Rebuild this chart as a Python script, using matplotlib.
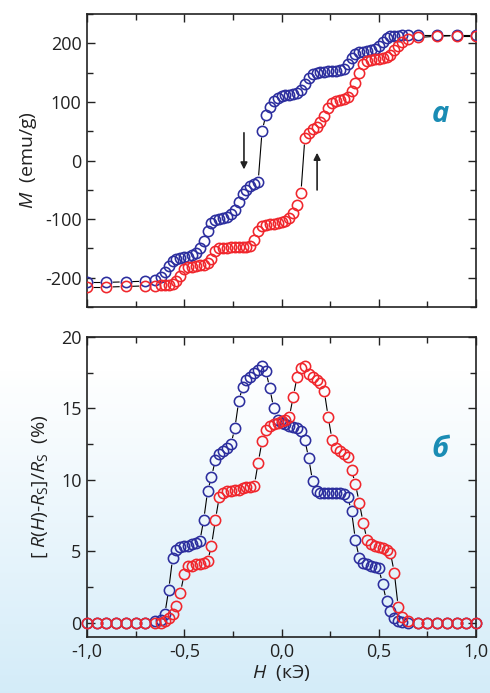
import numpy as np
import matplotlib
matplotlib.use("Agg")
import matplotlib.pyplot as plt
from matplotlib.collections import LineCollection
from matplotlib.ticker import MultipleLocator, FuncFormatter

plt.rcParams['font.family'] = ['Open Sans', 'DejaVu Sans']
plt.rcParams['axes.unicode_minus'] = False
plt.rcParams['mathtext.fontset'] = 'custom'
plt.rcParams['mathtext.rm'] = 'Open Sans'
plt.rcParams['mathtext.it'] = 'Open Sans:italic'

# ---- panel a: magnetization loop, M (emu/g) vs H (kOe) ----
h_top = [-1.0, -0.9, -0.8, -0.7, -0.65,
         -0.62, -0.60, -0.58, -0.56, -0.54, -0.52, -0.50, -0.48, -0.46, -0.44,
         -0.42, -0.40, -0.38, -0.36, -0.34, -0.32, -0.30, -0.28, -0.26, -0.24,
         -0.22, -0.20, -0.18, -0.16, -0.14, -0.12, -0.10, -0.08, -0.06, -0.04,
         -0.02, 0.00, 0.02, 0.04, 0.06, 0.08, 0.10, 0.12, 0.14, 0.16,
         0.18, 0.20, 0.22, 0.24, 0.26, 0.28, 0.30, 0.32, 0.34, 0.36,
         0.38, 0.40, 0.42, 0.44, 0.46, 0.48, 0.50, 0.52, 0.54, 0.56,
         0.58, 0.60, 0.62,
         0.65, 0.7, 0.8, 0.9, 1.0]

m_down = [-208, -208, -207, -206, -204,
          -198, -190, -180, -172, -168, -166, -165, -164, -162, -158,
          -150, -138, -120, -106, -101, -100, -98, -96, -92, -84,
          -70, -58, -50, -44, -40, -36, 50, 78, 92, 101,
          107, 110, 111, 112, 114, 116, 120, 130, 140, 147,
          150, 151, 151, 152, 152, 153, 154, 156, 164, 175,
          182, 185, 186, 187, 188, 190, 195, 203, 209, 212,
          213, 213, 214,
          214, 215, 215, 215, 215]

m_up = [-216, -216, -215, -214, -214,
        -213, -213, -212, -210, -205, -197, -186, -182, -181, -180,
        -179, -178, -175, -168, -155, -150, -149, -149, -148, -148,
        -148, -147, -147, -146, -136, -120, -112, -110, -109, -108,
        -107, -105, -103, -98, -90, -76, -55, 38, 47, 53,
        58, 66, 76, 89, 98, 102, 104, 105, 108, 118,
        132, 150, 164, 170, 172, 173, 174, 175, 177, 180,
        188, 195, 202,
        207, 210, 212, 213, 213]

# ---- panel b: magnetoresistance [R(H)-Rs]/Rs (%) vs H (kOe) ----
h_bot = [-1.0, -0.95, -0.9, -0.85, -0.8, -0.75, -0.7, -0.65,
         -0.62, -0.60, -0.58, -0.56, -0.54, -0.52, -0.50, -0.48, -0.46, -0.44,
         -0.42, -0.40, -0.38, -0.36, -0.34, -0.32, -0.30, -0.28, -0.26, -0.24,
         -0.22, -0.20, -0.18, -0.16, -0.14, -0.12, -0.10, -0.08, -0.06, -0.04,
         -0.02, 0.00, 0.02, 0.04, 0.06, 0.08, 0.10, 0.12, 0.14, 0.16,
         0.18, 0.20, 0.22, 0.24, 0.26, 0.28, 0.30, 0.32, 0.34, 0.36,
         0.38, 0.40, 0.42, 0.44, 0.46, 0.48, 0.50, 0.52, 0.54, 0.56,
         0.58, 0.60, 0.62,
         0.65, 0.7, 0.75, 0.8, 0.85, 0.9, 0.95, 1.0]

r_down = [0, 0, 0, 0, 0, 0, 0, 0.1,
          0.2, 0.6, 2.3, 4.5, 5.1, 5.3, 5.4, 5.4, 5.5, 5.6,
          5.7, 7.2, 9.2, 10.2, 11.4, 11.8, 12.0, 12.2, 12.5, 13.6,
          15.5, 16.5, 17.0, 17.2, 17.5, 17.7, 18.0, 17.6, 16.4, 15.0,
          14.2, 14.0, 13.9, 13.8, 13.7, 13.6, 13.4, 12.8, 11.5, 9.9,
          9.2, 9.1, 9.1, 9.1, 9.1, 9.1, 9.1, 9.0, 8.8, 7.8,
          5.8, 4.5, 4.2, 4.1, 4.0, 3.9, 3.8, 2.7, 1.5, 0.8,
          0.35, 0.15, 0.05,
          0, 0, 0, 0, 0, 0, 0, 0]

r_up = [0, 0, 0, 0, 0, 0, 0, 0,
        0.0, 0.1, 0.3, 0.6, 1.2, 2.1, 3.4, 4.0, 4.0, 4.1,
        4.1, 4.2, 4.3, 5.4, 7.2, 8.8, 9.1, 9.2, 9.2, 9.3,
        9.3, 9.4, 9.5, 9.5, 9.6, 11.2, 12.7, 13.5, 13.8, 13.9,
        14.0, 14.1, 14.2, 14.4, 15.8, 17.2, 17.8, 18.0, 17.4, 17.2,
        17.0, 16.8, 16.2, 14.4, 12.8, 12.2, 12.0, 11.8, 11.6, 10.7,
        9.7, 8.4, 7.0, 5.8, 5.5, 5.4, 5.3, 5.2, 5.1, 4.9,
        3.5, 1.1, 0.4,
        0.1, 0, 0, 0, 0, 0, 0, 0]

BLUE = '#2c2e9e'
RED = '#f0262c'
TEAL = '#1a8cb4'
MS = 7.4
MEW = 1.15

W, H = 490, 693
fig = plt.figure(figsize=(W / 100, H / 100), dpi=100)

# background: white fading to light blue towards the bottom
bg = fig.add_axes([0, 0, 1, 1], zorder=-10)
rows = np.arange(H)
t = np.clip((rows - 370) / (H - 370), 0, 1)[:, None]
top_c = np.array([1.0, 1.0, 1.0])
bot_c = np.array([0.83, 0.925, 0.975])
grad = (top_c * (1 - t) + bot_c * t)[:, None, :]
bg.imshow(grad, aspect='auto', extent=[0, 1, 0, 1])
bg.axis('off')


def px_axes(left, right, top, bottom):
    return fig.add_axes([left / W, 1 - bottom / H, (right - left) / W, (bottom - top) / H])


ax1 = px_axes(87, 476, 14, 307)
ax2 = px_axes(87, 476, 337, 637)


def gapped_line(ax, x, y, gap):
    # connecting line that stops at the marker edges
    pts = ax.transData.transform(np.column_stack([x, y]))
    inv = ax.transData.inverted()
    segs = []
    for p, q in zip(pts[:-1], pts[1:]):
        d = q - p
        L = np.hypot(*d)
        if L <= 2 * gap + 1:
            continue
        u = d / L
        segs.append(inv.transform(np.array([p + u * gap, q - u * gap])))
    ax.add_collection(LineCollection(segs, colors='black', linewidths=0.8, zorder=2))


def style(ax, ymajor, yminor):
    ax.set_facecolor('none')
    ax.set_xlim(-1.0, 1.0)
    ax.xaxis.set_major_locator(MultipleLocator(0.5))
    ax.xaxis.set_minor_locator(MultipleLocator(0.25))
    ax.yaxis.set_major_locator(MultipleLocator(ymajor))
    ax.yaxis.set_minor_locator(MultipleLocator(yminor))
    ax.tick_params(which='both', direction='in', top=True, right=True,
                   labelsize=13, colors='#222222', width=1.0, pad=4)
    ax.tick_params(which='major', length=6)
    ax.tick_params(which='minor', length=4)
    for s in ax.spines.values():
        s.set_linewidth(1.2)
        s.set_color('#222222')


gap = (MS / 2 + MEW / 2) * 100 / 72 + 0.3

# panel a
style(ax1, 100, 50)
ax1.set_ylim(-250, 250)
ax1.tick_params(axis='x', labelbottom=False)
ax1.yaxis.set_major_formatter(FuncFormatter(lambda v, p: f"{v:.0f}"))
for hh, mm, c in [(h_top, m_down, BLUE), (h_top, m_up, RED)]:
    gapped_line(ax1, hh, mm, gap)
    ax1.plot(hh, mm, 'o', ms=MS, mfc='none', mec=c, mew=MEW, zorder=3)
ax1.annotate('', xy=(-0.193, -20), xytext=(-0.193, 52),
             arrowprops=dict(arrowstyle='-|>', color='#222222', lw=1.2, mutation_scale=10))
ax1.annotate('', xy=(0.183, 18), xytext=(0.183, -55),
             arrowprops=dict(arrowstyle='-|>', color='#222222', lw=1.2, mutation_scale=10))
ax1.text(0.815, 79, 'а', color=TEAL, fontsize=21, fontweight='bold', style='italic',
         ha='center', va='center')
ax1.set_ylabel(r'$M$  (emu/g)', fontsize=14, color='#222222', labelpad=4)

# panel b
style(ax2, 5, 2.5)
ax2.set_ylim(-1, 20)
ax2.xaxis.set_major_formatter(FuncFormatter(lambda v, p: f"{v:.1f}".replace('.', ',')))
ax2.yaxis.set_major_formatter(FuncFormatter(lambda v, p: f"{v:.0f}"))
for hh, rr, c in [(h_bot, r_down, BLUE), (h_bot, r_up, RED)]:
    gapped_line(ax2, hh, rr, gap)
    ax2.plot(hh, rr, 'o', ms=MS, mfc='none', mec=c, mew=MEW, zorder=3, clip_on=False)
ax2.text(0.815, 12.1, 'б', color=TEAL, fontsize=21, fontweight='bold', style='italic',
         ha='center', va='center')
ax2.set_ylabel(r'[ $R(H)$-$R_{\rm S}$]/$R_{\rm S}$  (%)', fontsize=14, color='#222222', labelpad=8)
ax2.set_xlabel(r'$H$  (кЭ)', fontsize=14, color='#222222', labelpad=2)

fig.savefig('out.png', dpi=100)
